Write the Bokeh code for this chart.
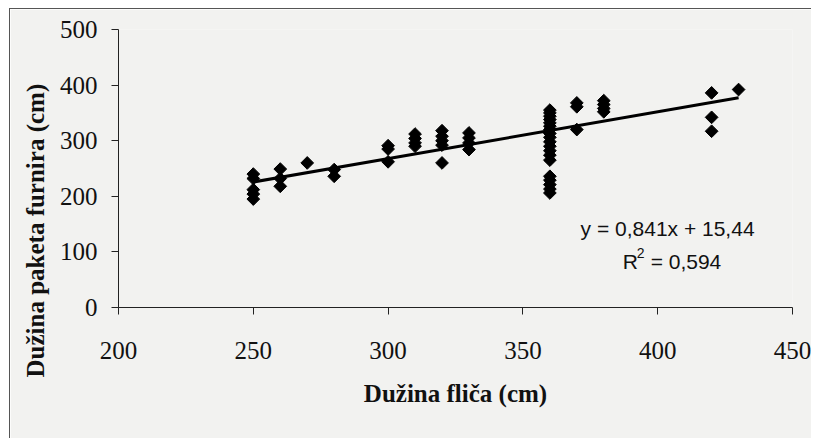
import math
from bokeh.plotting import figure
from bokeh.models import Label, Range1d, FixedTicker, Title
from bokeh.embed import file_html
from bokeh.resources import INLINE

# ---- data ----
flic_cm = ([250] * 5 + [260] * 3 + [270] + [280] * 2 + [300] * 3 + [310] * 4 +
           [320] * 5 + [330] * 4 + [360] * 19 + [370] * 3 + [380] * 4 + [420] * 3 + [430])
paket_cm = [240, 232, 212, 204, 195,
            249, 232, 218,
            260,
            248, 236,
            291, 285, 262,
            312, 304, 296, 290,
            318, 308, 300, 292, 260,
            314, 305, 296, 284,
            355, 350, 344, 338, 332, 326, 320, 313, 306, 298, 290, 282, 274, 265,
            236, 229, 221, 213, 206,
            368, 361, 320,
            372, 365, 358, 352,
            386, 342, 317,
            392]
slope = 0.841
intercept = 15.44
eq_text = "y = 0,841x + 15,44"
r2_parts = ["R", "2", "= 0,594"]
x_ticks = [200, 250, 300, 350, 400, 450]
y_ticks = [0, 100, 200, 300, 400, 500]
x_title = "Dužina fliča (cm)"
y_title = "Dužina paketa furnira (cm)"

BG = "#f2f2f0"
SERIF = "Liberation Serif"
SANS = "Liberation Sans"

p = figure(width=802, height=430, output_backend="svg", toolbar_location=None,
           x_range=Range1d(200, 450), y_range=Range1d(0, 500),
           min_border_left=108, min_border_right=20, min_border_top=20, min_border_bottom=132)
p.background_fill_color = BG
p.border_fill_color = BG
p.outline_line_color = None
p.grid.visible = False
p.styles = {"border-top": "1.5px solid #555", "border-left": "1.5px solid #555",
            "margin-left": "9px", "margin-top": "8px"}

for ax in (p.xaxis[0], p.yaxis[0]):
    ax.axis_line_color = "#222"
    ax.axis_line_width = 1
    ax.major_tick_line_color = "#222"
    ax.major_tick_out = 7
    ax.major_tick_in = 0
    ax.minor_tick_line_color = None
    ax.major_label_text_font = SERIF
    ax.major_label_text_font_size = "25px"
    ax.major_label_text_color = "#111"
    ax.axis_label_text_font = SERIF
    ax.axis_label_text_font_style = "bold"
    ax.axis_label_text_font_size = "25px"
    ax.axis_label_text_color = "#111"

p.xaxis.ticker = FixedTicker(ticks=x_ticks)
p.yaxis.ticker = FixedTicker(ticks=y_ticks)
p.xaxis.axis_label = x_title
p.xaxis.major_label_standoff = 27
p.xaxis.axis_label_standoff = 18
p.yaxis.major_label_standoff = 14

# y title placed as in the reference (lower than the frame centre)
p.add_layout(Title(text=y_title, align="left", offset=-70, text_font=SERIF,
                   text_font_style="bold", text_font_size="25px", text_color="#111",
                   standoff=16), "left")

# trend line from equation
x0, x1 = min(flic_cm), max(flic_cm)
p.line([x0, x1], [slope * x0 + intercept, slope * x1 + intercept], line_color="black", line_width=3)

p.scatter(flic_cm, paket_cm, marker="square", angle=math.pi / 4, size=9,
          fill_color="black", line_color="black")

p.add_layout(Label(x=371.4, y=142, text=eq_text, text_font=SANS,
                   text_font_size="21px", text_color="#111", text_baseline="middle"))
p.add_layout(Label(x=387, y=83, text=r2_parts[0], text_font=SANS,
                   text_font_size="21px", text_color="#111", text_baseline="middle"))
p.add_layout(Label(x=387, y=83, x_offset=14, y_offset=8, text=r2_parts[1], text_font=SANS,
                   text_font_size="14px", text_color="#111", text_baseline="middle"))
p.add_layout(Label(x=387, y=83, x_offset=28, text=r2_parts[2], text_font=SANS,
                   text_font_size="21px", text_color="#111", text_baseline="middle"))

open("out.html", "w").write(file_html(p, INLINE))
